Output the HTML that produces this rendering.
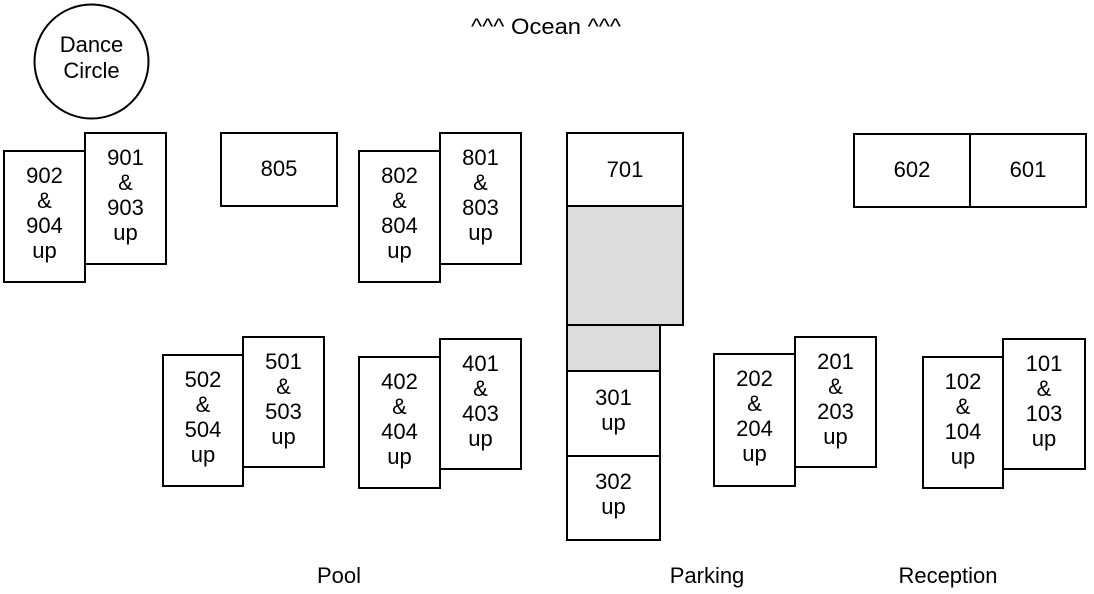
<!DOCTYPE html>
<html><head><meta charset="utf-8"><style>
html,body{margin:0;padding:0;background:#fff;}
svg{display:block}
text{font-family:"Liberation Sans",Arial,sans-serif;font-size:22px;fill:#000;text-anchor:middle}
rect,circle{stroke:#000;stroke-width:2;fill:#fff}
</style></head><body>
<svg width="1094" height="594" viewBox="0 0 1094 594">
<text x="546" y="34" textLength="150" lengthAdjust="spacingAndGlyphs">^^^ Ocean ^^^</text>
<circle cx="91.5" cy="61.5" r="57"/>
<text x="91.5" y="52">Dance</text><text x="91.5" y="78">Circle</text>

<rect x="4" y="151" width="81" height="131"/>
<rect x="85" y="133" width="81" height="131"/>
<text x="44.5" y="183">902</text><text x="44.5" y="208">&amp;</text><text x="44.5" y="233">904</text><text x="44.5" y="258">up</text>
<text x="125.5" y="165">901</text><text x="125.5" y="190">&amp;</text><text x="125.5" y="215">903</text><text x="125.5" y="240">up</text>

<rect x="221" y="133" width="116" height="73"/>
<text x="279" y="176">805</text>

<rect x="359" y="151" width="81" height="131"/>
<rect x="440" y="133" width="81" height="131"/>
<text x="399.5" y="183">802</text><text x="399.5" y="208">&amp;</text><text x="399.5" y="233">804</text><text x="399.5" y="258">up</text>
<text x="480.5" y="165">801</text><text x="480.5" y="190">&amp;</text><text x="480.5" y="215">803</text><text x="480.5" y="240">up</text>

<rect x="567" y="133" width="116" height="73"/>
<text x="625" y="177">701</text>
<rect x="567" y="206" width="116" height="119" style="fill:#dcdcdc"/>
<rect x="567" y="325" width="93" height="46" style="fill:#dcdcdc"/>
<rect x="567" y="371" width="93" height="85"/>
<text x="613.5" y="405">301</text><text x="613.5" y="430">up</text>
<rect x="567" y="456" width="93" height="84"/>
<text x="613.5" y="489">302</text><text x="613.5" y="514">up</text>

<rect x="854" y="134" width="232" height="73"/>
<line x1="970" y1="134" x2="970" y2="207" stroke="#000" stroke-width="2"/>
<text x="912" y="177">602</text><text x="1028" y="177">601</text>

<rect x="163" y="355" width="80" height="131"/>
<rect x="243" y="337" width="81" height="130"/>
<text x="203" y="387">502</text><text x="203" y="412">&amp;</text><text x="203" y="437">504</text><text x="203" y="462">up</text>
<text x="283.5" y="369">501</text><text x="283.5" y="394">&amp;</text><text x="283.5" y="419">503</text><text x="283.5" y="444">up</text>

<rect x="359" y="357" width="81" height="131"/>
<rect x="440" y="339" width="81" height="130"/>
<text x="399.5" y="389">402</text><text x="399.5" y="414">&amp;</text><text x="399.5" y="439">404</text><text x="399.5" y="464">up</text>
<text x="480.5" y="371">401</text><text x="480.5" y="396">&amp;</text><text x="480.5" y="421">403</text><text x="480.5" y="446">up</text>

<rect x="714" y="354" width="81" height="132"/>
<rect x="795" y="337" width="81" height="130"/>
<text x="754.5" y="386">202</text><text x="754.5" y="411">&amp;</text><text x="754.5" y="436">204</text><text x="754.5" y="461">up</text>
<text x="835.5" y="369">201</text><text x="835.5" y="394">&amp;</text><text x="835.5" y="419">203</text><text x="835.5" y="444">up</text>

<rect x="923" y="357" width="80" height="131"/>
<rect x="1003" y="339" width="82" height="130"/>
<text x="963" y="389">102</text><text x="963" y="414">&amp;</text><text x="963" y="439">104</text><text x="963" y="464">up</text>
<text x="1044" y="371">101</text><text x="1044" y="396">&amp;</text><text x="1044" y="421">103</text><text x="1044" y="446">up</text>

<text x="339" y="583">Pool</text>
<text x="707" y="583">Parking</text>
<text x="948" y="583">Reception</text>
</svg>
</body></html>
